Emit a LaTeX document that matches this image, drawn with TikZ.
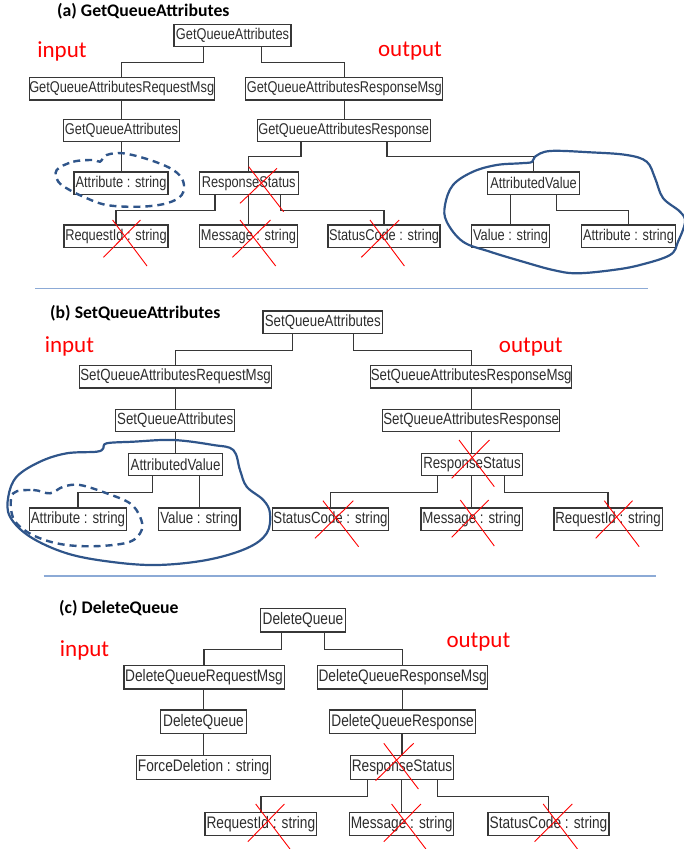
\documentclass[tikz,border=0pt]{standalone}
\usepackage{fontspec}
\newfontfamily\boxfont[FakeStretch=0.82]{Liberation Sans}
\newfontfamily\calib{Carlito}
\usetikzlibrary{calc}
\definecolor{boxtext}{RGB}{45,45,45}
\definecolor{boxline}{RGB}{55,55,55}
\definecolor{loopblue}{RGB}{47,85,138}
\definecolor{sepblue}{RGB}{140,170,214}
\tikzset{
  box/.style={draw=boxline, line width=1.2pt, inner sep=0pt, minimum height=22.5pt, text=boxtext, align=center},
  bxa/.style={box, font=\boxfont\fontsize{15.6}{16}\selectfont},
  bxb/.style={box, font=\boxfont\fontsize{16.2}{17}\selectfont},
  bxc/.style={box, minimum height=23.5pt, font=\boxfont\fontsize{16.7}{17}\selectfont},
  conn/.style={draw=boxline, line width=1.2pt},
  ttl/.style={anchor=west, inner sep=0pt, font=\calib\bfseries\fontsize{17.7}{18}\selectfont},
  io/.style={inner sep=0pt, text=red, font=\calib\fontsize{23}{24}\selectfont},
  redx/.style={draw=red, line width=0.9pt},
  hloop/.style={draw=loopblue, line width=2.2pt, line join=round},
  dloop/.style={draw=loopblue, line width=2.4pt, dash pattern=on 7pt off 5pt},
  sepline/.style={draw=sepblue, line width=1.8pt}
}
\begin{document}
\begin{tikzpicture}[x=1pt,y=-1pt]
\useasboundingbox (0,0) rectangle (684,849);

% ---------------- (a) ----------------
\node[ttl] (ta) at (57,11) {(a) GetQueueAttributes};
\node[io] (inA) at (62,51) {input};
\node[io] (outA) at (410,51) {output};

\node[bxa, minimum width=117pt] (rootA) at (232.5,35.5) {GetQueueAttributes};
\node[bxa, minimum width=185pt] (reqA) at (121.7,88.7) {GetQueueAttributesRequestMsg};
\node[bxa, minimum width=197pt] (respA) at (344.3,88.7) {GetQueueAttributesResponseMsg};
\node[bxa, minimum width=116pt] (gqaA) at (121.5,130.5) {GetQueueAttributes};
\node[bxa, minimum width=173pt] (gqarA) at (343.7,130.5) {GetQueueAttributesResponse};
\node[bxa, minimum width=94pt] (attrA) at (121,183.2) {Attribute : string};
\node[bxa, minimum width=99pt] (rsA) at (248.7,183.2) {ResponseStatus};
\node[bxa, minimum width=92pt] (avA) at (533.6,183.2) {AttributedValue};
\node[bxa, minimum width=104pt] (ridA) at (116,236.2) {RequestId : string};
\node[bxa, minimum width=98pt] (msgA) at (248.5,236.2) {Message : string};
\node[bxa, minimum width=112pt] (scA) at (384,236.2) {StatusCode : string};
\node[bxa, minimum width=78.5pt] (valA) at (510.5,236.2) {Value : string};
\node[bxa, minimum width=94pt] (at2A) at (628.5,236.2) {Attribute : string};

\draw[conn] ([xshift=-29.2pt]rootA.south) -- ++(0,15) -| (reqA.north);
\draw[conn] ([xshift=29.2pt]rootA.south) -- ++(0,15) -| (respA.north);
\draw[conn] (reqA.south) -- (reqA.south |- gqaA.north);
\draw[conn] (respA.south) -- (respA.south |- gqarA.north);
\draw[conn] (gqaA.south) -- (gqaA.south |- attrA.north);
\draw[conn] ([xshift=-42.7pt]gqarA.south) -- ++(0,14.3) -| (rsA.north);
\draw[conn] ([xshift=43.3pt]gqarA.south) -- ++(0,14.3) -| (avA.north);
\draw[conn] ([xshift=-33.7pt]rsA.south) -- ++(0,15.3) -| (ridA.north);
\draw[conn] (rsA.south) -- (rsA.south |- msgA.north);
\draw[conn] ([xshift=31.8pt]rsA.south) -- ++(0,15.3) -| (scA.north);
\draw[conn] (avA.south -| valA.north) -- (valA.north);
\draw[conn] ([xshift=22.7pt]avA.south) -- ++(0,15.3) -| (at2A.north);

\draw[redx] (248.7,166.7) -- (283.6,211.7); \draw[redx] (277,168.3) -- (240,203.3);
\draw[redx] (112.6,220) -- (147,266); \draw[redx] (140.5,220) -- (103.4,257.3);
\draw[redx] (240,220) -- (275.7,266); \draw[redx] (270.5,220) -- (232.5,257.3);
\draw[redx] (370,220) -- (404.4,266); \draw[redx] (399.2,220) -- (361.3,257.3);

\draw[hloop] plot[smooth cycle, tension=0.6] coordinates {(535,156.7) (550,151) (590,152.3) (626.7,155) (646.7,161.7) (655,178) (663,198) (680,211.7) (685,222) (678,241.7) (670,255) (640,265) (613,270) (576.7,273.3) (553,270) (523,261.7) (490,251.7) (463,241.7) (446.7,221.7) (445,205) (453,185) (473,171.7) (496.7,165) (520,163.3) (532,162)};
\draw[dloop] plot[smooth cycle, tension=0.6] coordinates {(56.7,170) (73.3,161.7) (93.3,160) (100,161.7) (106.7,155) (123.3,153.3) (150,160) (173.3,170) (183.3,181.7) (181.7,195) (166.7,203.3) (140,206.7) (106.7,205) (83.3,196.7) (66.7,188.3) (58.3,181.7)};

\draw[sepline] (35,288.5) -- (648,288.5);

% ---------------- (b) ----------------
\node[ttl] (tb) at (50,313.3) {(b) SetQueueAttributes};
\node[io] (inB) at (69.4,346.7) {input};
\node[io] (outB) at (530.8,346.7) {output};

\node[bxb, minimum width=119.6pt] (rootB) at (322.8,322.3) {SetQueueAttributes};
\node[bxb, minimum width=192.4pt] (reqB) at (175.6,376.7) {SetQueueAttributesRequestMsg};
\node[bxb, minimum width=200.7pt] (respB) at (471.2,376.7) {SetQueueAttributesResponseMsg};
\node[bxb, minimum width=119pt] (sqaB) at (175.2,420.5) {SetQueueAttributes};
\node[bxb, minimum width=177.2pt] (sqarB) at (471.2,420.5) {SetQueueAttributesResponse};
\node[bxb, minimum width=93.8pt] (avB) at (175.6,464.5) {AttributedValue};
\node[bxb, minimum width=100.4pt] (rsB) at (472,464.5) {ResponseStatus};
\node[bxb, minimum width=97.3pt] (attrB) at (77.9,519.2) {Attribute : string};
\node[bxb, minimum width=81.6pt] (valB) at (199.2,519.2) {Value : string};
\node[bxb, minimum width=115.6pt] (scB) at (330.5,519.2) {StatusCode : string};
\node[bxb, minimum width=101.3pt] (msgB) at (471.7,519.2) {Message : string};
\node[bxb, minimum width=108.2pt] (ridB) at (608,519.2) {RequestId : string};

\draw[conn] ([xshift=-30pt]rootB.south) -- ++(0,16) -| (reqB.north);
\draw[conn] ([xshift=30.6pt]rootB.south) -- ++(0,16) -| (respB.north);
\draw[conn] (reqB.south) -- (reqB.south |- sqaB.north);
\draw[conn] (respB.south) -- (respB.south |- sqarB.north);
\draw[conn] (sqaB.south) -- (sqaB.south |- avB.north);
\draw[conn] (sqarB.south) -- (sqarB.south |- rsB.north);
\draw[conn] ([xshift=-22.9pt]avB.south) -- ++(0,16) -| (attrB.north);
\draw[conn] (avB.south -| valB.north) -- (valB.north);
\draw[conn] ([xshift=-34.8pt]rsB.south) -- ++(0,16) -| (scB.north);
\draw[conn] (rsB.south -| msgB.north) -- (msgB.north);
\draw[conn] ([xshift=32.8pt]rsB.south) -- ++(0,16) -| (ridB.north);

\draw[redx] (459,440) -- (494.3,486.7); \draw[redx] (489.5,440) -- (451.6,478.3);
\draw[redx] (322.9,500.7) -- (358.6,546.7); \draw[redx] (353.4,500.7) -- (315,538.3);
\draw[redx] (460.3,500) -- (494.3,546); \draw[redx] (488.7,500) -- (451.6,537.3);
\draw[redx] (604.3,500.7) -- (639.2,546.7); \draw[redx] (632.6,500.7) -- (595.6,538.3);

\draw[hloop] plot[smooth cycle, tension=0.6] coordinates {(106.7,443.3) (133.3,441.7) (173.3,440) (213.3,445) (233.3,450) (240,470) (246.7,486.7) (263.3,500) (270,513.3) (266.7,533.3) (246.7,548.3) (206.7,560) (156.7,565) (110,561.7) (66.7,553.3) (30,536.7) (10,516.7) (8.3,496.7) (16.7,476.7) (40,461.7) (66.7,453.3) (96.7,451.7) (103.3,448.3)};
\draw[dloop] plot[smooth cycle, tension=0.6] coordinates {(13.3,493.3) (33.3,490) (50,493.3) (63.3,486.7) (80,485) (106.7,493.3) (130,503.3) (140,516.7) (141.7,530) (130,541.7) (100,546) (66.7,545) (40,538.3) (20,526.7) (11.7,513.3)};

\draw[sepline] (43.6,576) -- (655.8,576);

% ---------------- (c) ----------------
\node[ttl] (tc) at (59,608.3) {(c) DeleteQueue};
\node[io] (inC) at (84.6,650) {input};
\node[io] (outC) at (478.4,641.7) {output};

\node[bxc, minimum width=85pt] (rootC) at (303,620.3) {DeleteQueue};
\node[bxc, minimum width=160.2pt] (reqC) at (204,677.2) {DeleteQueueRequestMsg};
\node[bxc, minimum width=170.2pt] (respC) at (402.7,677.2) {DeleteQueueResponseMsg};
\node[bxc, minimum width=85.7pt] (dqC) at (203.5,721.7) {DeleteQueue};
\node[bxc, minimum width=145.6pt] (dqrC) at (402.6,721.7) {DeleteQueueResponse};
\node[bxc, minimum width=134pt] (fdC) at (203.6,767.5) {ForceDeletion : string};
\node[bxc, minimum width=103.5pt] (rsC) at (402,767.5) {ResponseStatus};
\node[bxc, minimum width=111.8pt] (ridC) at (260.9,824) {RequestId : string};
\node[bxc, minimum width=104.3pt] (msgC) at (401.7,824) {Message : string};
\node[bxc, minimum width=121.1pt] (scC) at (548.5,824) {StatusCode : string};

\draw[conn] ([xshift=-21.6pt]rootC.south) -- ++(0,17) -| (reqC.north);
\draw[conn] ([xshift=21.2pt]rootC.south) -- ++(0,17) -| (respC.north);
\draw[conn] (reqC.south -| dqC.north) -- (dqC.north);
\draw[conn] (respC.south -| dqrC.north) -- (dqrC.north);
\draw[conn] (dqC.south) -- (dqC.south |- fdC.north);
\draw[conn] (dqrC.south -| rsC.north) -- (rsC.north);
\draw[conn] ([xshift=-34.6pt]rsC.south) -- ++(0,16.4) -| (ridC.north);
\draw[conn] (rsC.south -| msgC.north) -- (msgC.north);
\draw[conn] ([xshift=35.8pt]rsC.south) -- ++(0,16.4) -| (scC.north);

\draw[redx] (383.8,743.3) -- (418.4,789); \draw[redx] (413.6,743.3) -- (375.6,780.7);
\draw[redx] (255.7,804) -- (290,849); \draw[redx] (284.4,804) -- (247.9,841.7);
\draw[redx] (391.6,804) -- (425.9,849); \draw[redx] (421,804) -- (383.8,841.7);
\draw[redx] (543.2,804) -- (577.5,849); \draw[redx] (572.3,804) -- (534.6,841.7);
\end{tikzpicture}
\end{document}
